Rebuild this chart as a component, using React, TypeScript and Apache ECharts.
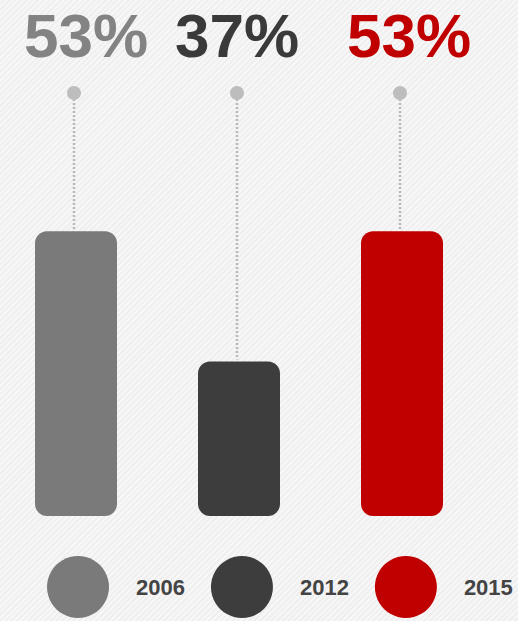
import React, { useEffect, useRef } from "react";
import * as echarts from "echarts";

const years = ["2006", "2012", "2015"];
const shares = [53, 37, 53];
const barColors = ["#7a7a7a", "#3d3d3d", "#c00000"];
const labelColors = ["#838383", "#3a3a3a", "#c00000"];
const labelShift = [10, -2, 7];
const DOT_LEVEL = 70;

export default function App() {
  const ref = useRef<HTMLDivElement>(null);
  useEffect(() => {
    if (!ref.current) return;
    const chart = echarts.init(ref.current, null, { renderer: "svg" });
    const barSeries = years.map((y, i) => ({
      name: y,
      type: "bar",
      barWidth: 82,
      barGap: "-100%",
      itemStyle: { color: barColors[i], borderRadius: 12 },
      data: shares.map((v, j) => (j === i ? v : "-")),
    }));
    chart.setOption({
      animation: false,
      backgroundColor: "transparent",
      grid: { left: 76, right: 116, top: 93, bottom: 105 },
      xAxis: {
        type: "category",
        data: years,
        boundaryGap: false,
        show: false,
      },
      yAxis: { type: "value", min: 18, max: 70, show: false },
      legend: {
        left: 47,
        top: 556,
        width: 471,
        padding: 0,
        icon: "circle",
        itemWidth: 62,
        itemHeight: 62,
        itemGap: 26,
        data: years,
        selectedMode: false,
        textStyle: {
          fontFamily: "Liberation Sans, Arial, sans-serif",
          fontWeight: "bold",
          fontSize: 22,
          color: "#444444",
          padding: [0, 0, 0, 22],
        },
      },
      series: [
        ...barSeries,
        {
          type: "custom",
          silent: true,
          data: shares.map((v, i) => [i, v]),
          renderItem: (params: any, api: any) => {
            const i = api.value(0);
            const v = api.value(1);
            const top = api.coord([i, v]);
            const dot = api.coord([i, DOT_LEVEL]);
            return {
              type: "group",
              children: [
                {
                  type: "line",
                  shape: { x1: dot[0] - 2, y1: dot[1] + 6, x2: top[0] - 2, y2: top[1] - 2 },
                  style: { stroke: "#b8b8b8", lineWidth: 2.5, lineDash: [2, 2] },
                },
                {
                  type: "circle",
                  shape: { cx: dot[0] - 2, cy: dot[1], r: 7 },
                  style: { fill: "#bdbdbd" },
                },
                {
                  type: "text",
                  x: dot[0] + labelShift[i],
                  y: dot[1] - 58,
                  style: {
                    text: `${v}%`,
                    fill: labelColors[i],
                    font: "bold 62px 'Liberation Sans', Arial, sans-serif",
                    textAlign: "center",
                    textVerticalAlign: "middle",
                  },
                },
              ],
            };
          },
        },
      ],
    });
    return () => chart.dispose();
  }, []);
  return (
    <div
      style={{
        position: "fixed",
        left: 0,
        top: 0,
        width: 518,
        height: 621,
        background:
          "repeating-linear-gradient(135deg, #f7f7f7 0px, #f7f7f7 2px, #efefef 2px, #efefef 4px)",
      }}
    >
      <div ref={ref} style={{ width: 518, height: 621 }} />
    </div>
  );
}
